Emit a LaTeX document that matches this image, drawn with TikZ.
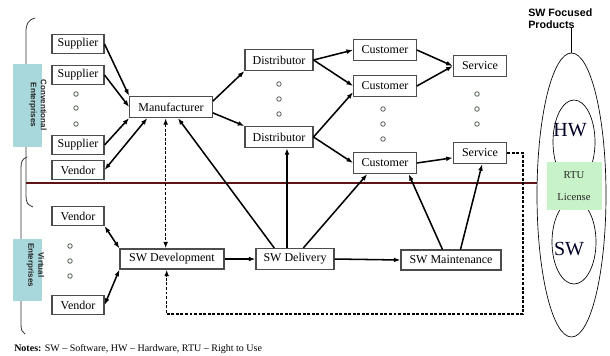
\documentclass[tikz,border=0pt]{standalone}
\usepackage{fontspec}
\setmainfont{Liberation Serif}
\newfontfamily\labelfont{Liberation Sans}
\usetikzlibrary{arrows.meta,shapes.geometric}
\definecolor{entblue}{HTML}{A9D8DC}
\definecolor{rtugreen}{HTML}{C8F2C8}
\definecolor{divred}{HTML}{5E1414}
\definecolor{dotgray}{HTML}{4E5A4E}

\begin{document}
\begin{tikzpicture}[x=0.75pt,y=-0.75pt]
\tikzstyle{box}=[draw=black!70, line width=0.8pt, fill=white, inner sep=1pt, minimum height=15.75pt, font=\fontsize{9}{10}\selectfont]
\tikzstyle{arr}=[line width=1.15pt, -{Latex[length=5pt,width=3.6pt]}]
\tikzstyle{darr}=[line width=1.15pt, {Latex[length=5pt,width=3.6pt]}-{Latex[length=5pt,width=3.6pt]}]
\tikzstyle{dsh}=[line width=1.15pt, dash pattern=on 2.2pt off 1.2pt]
\tikzstyle{ent}=[fill=entblue, inner sep=0, minimum width=21.75pt]
\tikzstyle{enttxt}=[rotate=-90, align=center, inner sep=0, text=black!85, font=\labelfont\bfseries\fontsize{6}{7.5}\selectfont]
\tikzstyle{oval}=[draw, ellipse, inner sep=0, line width=0.5pt]

\useasboundingbox (0,0) rectangle (610,355);

% brackets and divider
\draw[black!80, line width=0.6pt] (35,18) .. controls (28,20) and (26,24) .. (26,32) -- (26,196) .. controls (26,203) and (28,205) .. (33,207);
\draw[black!80, line width=0.6pt] (27,157) .. controls (22,159) and (21,162) .. (21,168) -- (21,324) .. controls (21,330) and (22,332) .. (25,334);
\draw[divred, line width=1.4pt] (26,183) -- (537,183);

\node[ent, minimum height=62pt] (conv) at (27.5,105.5) {};
\node[enttxt] (convtxt) at (38,105) {Conventional\\Enterprises};
\node[ent, minimum height=46.5pt] (virt) at (27.5,270) {};
\node[enttxt] (virttxt) at (35.5,265) {Virtual\\Enterprises};

% conventional side
\node[box, minimum width=39pt, minimum height=14.25pt] (sup1) at (78,44) {Supplier};
\node[box, minimum width=39pt, minimum height=14.25pt] (sup2) at (78,75) {Supplier};
\node[box, minimum width=39pt, minimum height=14.25pt] (sup3) at (78,145) {Supplier};
\node[box, minimum width=39pt, minimum height=14.25pt] (ven1) at (78,170) {Vendor};
\node[box, minimum width=62pt] (man) at (171,107) {Manufacturer};
\node[box, minimum width=51pt] (dis1) at (279,60) {Distributor};
\node[box, minimum width=51pt] (dis2) at (279,137) {Distributor};
\node[box, minimum width=47pt] (cus1) at (385,50) {Customer};
\node[box, minimum width=47pt] (cus2) at (385,86) {Customer};
\node[box, minimum width=47pt] (cus3) at (385,163) {Customer};
\node[box, minimum width=40pt] (ser1) at (480,66) {Service};
\node[box, minimum width=40pt] (ser2) at (480,153) {Service};

% virtual side
\node[box, minimum width=39pt, minimum height=14.25pt] (ven2) at (78,216) {Vendor};
\node[box, minimum width=39pt, minimum height=14.25pt] (ven3) at (78,305) {Vendor};
\node[box, minimum width=78pt, minimum height=15pt] (dev) at (172,259) {SW Development};
\node[box, minimum width=58.5pt] (del) at (295,259) {SW Delivery};
\node[box, minimum width=75pt, minimum height=15pt] (mnt) at (451,260) {SW Maintenance};

\foreach \x/\y in {76/94, 76/108, 76/124, 279/84, 279/99, 279/114, 383/109, 383/124, 383/139, 477/94, 477/109, 477/124, 70/246, 70/261, 70/276}
  \draw[dotgray, line width=0.6pt] (\x,\y) circle (1.7pt);

\draw[arr] (sup1.east) -- (man.north west);
\draw[arr] (sup2.east) -- (man.west);
\draw[arr] (sup3.east) -- (man.south west);
\draw[darr] (ven1.east) -- (man.205);
\draw[arr] (man.8) -- (dis1.south west);
\draw[arr] (man.352) -- (dis2.north west);
\draw[arr] (dis1.east) -- (cus1.west);
\draw[arr] (dis1.east) -- (cus2.west);
\draw[arr] (dis2.east) -- (cus2.191);
\draw[arr] (dis2.east) -- (cus3.west);
\draw[arr] (cus1.east) -- (ser1.west);
\draw[arr] (cus2.east) -- (ser1.west);
\draw[arr] (cus3.east) -- (ser2.190);

\draw[dsh, {Latex[length=5pt,width=3.6pt]}-{Latex[length=5pt,width=3.6pt]}] ([xshift=-4pt]man.south) -- ([xshift=-4pt]man.south |- dev.north);
\draw[dsh, -{Latex[length=5pt,width=3.6pt]}] (ser2.east) -- ++(16,0) -- ++(0,161) -| ([xshift=-4pt]dev.south);

\draw[arr] (del.152) -- (man.302);
\draw[arr] ([xshift=6pt]dis2.south |- del.north) -- ([xshift=6pt]dis2.south);
\draw[arr] (del.53) -- (cus3.212);
\draw[arr] (mnt.129) -- (cus3.335);
\draw[arr] (mnt.48) -- (ser2.281);
\draw[arr] (dev.east) -- (del.west);
\draw[arr] (del.east) -- (mnt.west);
\draw[darr] (ven2.south east) -- (dev.north west);
\draw[darr] (ven3.east) -- (dev.south west);

% products
\node[oval, minimum width=51.75pt, minimum height=213pt] (outer) at (571.5,195) {};
\node[oval, minimum width=31.5pt, minimum height=63pt] (hw) at (574,142) {};
\node[oval, minimum width=33pt, minimum height=63pt] (sw) at (574,242) {};
\node[fill=rtugreen, minimum width=41pt, minimum height=36pt] (rtu) at (574.5,186) {};
\node[font=\fontsize{8}{9}\selectfont, text=black!85] (rtutxt) at (574,175) {RTU};
\node[font=\fontsize{8}{9}\selectfont, text=black!85] (lictxt) at (574,197) {License};
\node[font=\fontsize{15}{16}\selectfont, text=black!85!blue, inner sep=0] (hwtxt) at (570,130) {HW};
\node[font=\fontsize{15}{16}\selectfont, text=black!85!blue, inner sep=0] (swtxt) at (569,249) {SW};
\node[anchor=north west, align=left, inner sep=0, font=\labelfont\bfseries\fontsize{8}{9}\selectfont] (prod) at (528,8) {SW Focused\\Products};
\draw[line width=0.5pt] (prod.south -| outer.north) -- (outer.north);

\node[anchor=south west, inner sep=0, font=\fontsize{7.5}{8}\selectfont] (notes) at (14,354) {\textbf{Notes:} SW – Software, HW – Hardware, RTU – Right to Use};
\end{tikzpicture}
\end{document}
